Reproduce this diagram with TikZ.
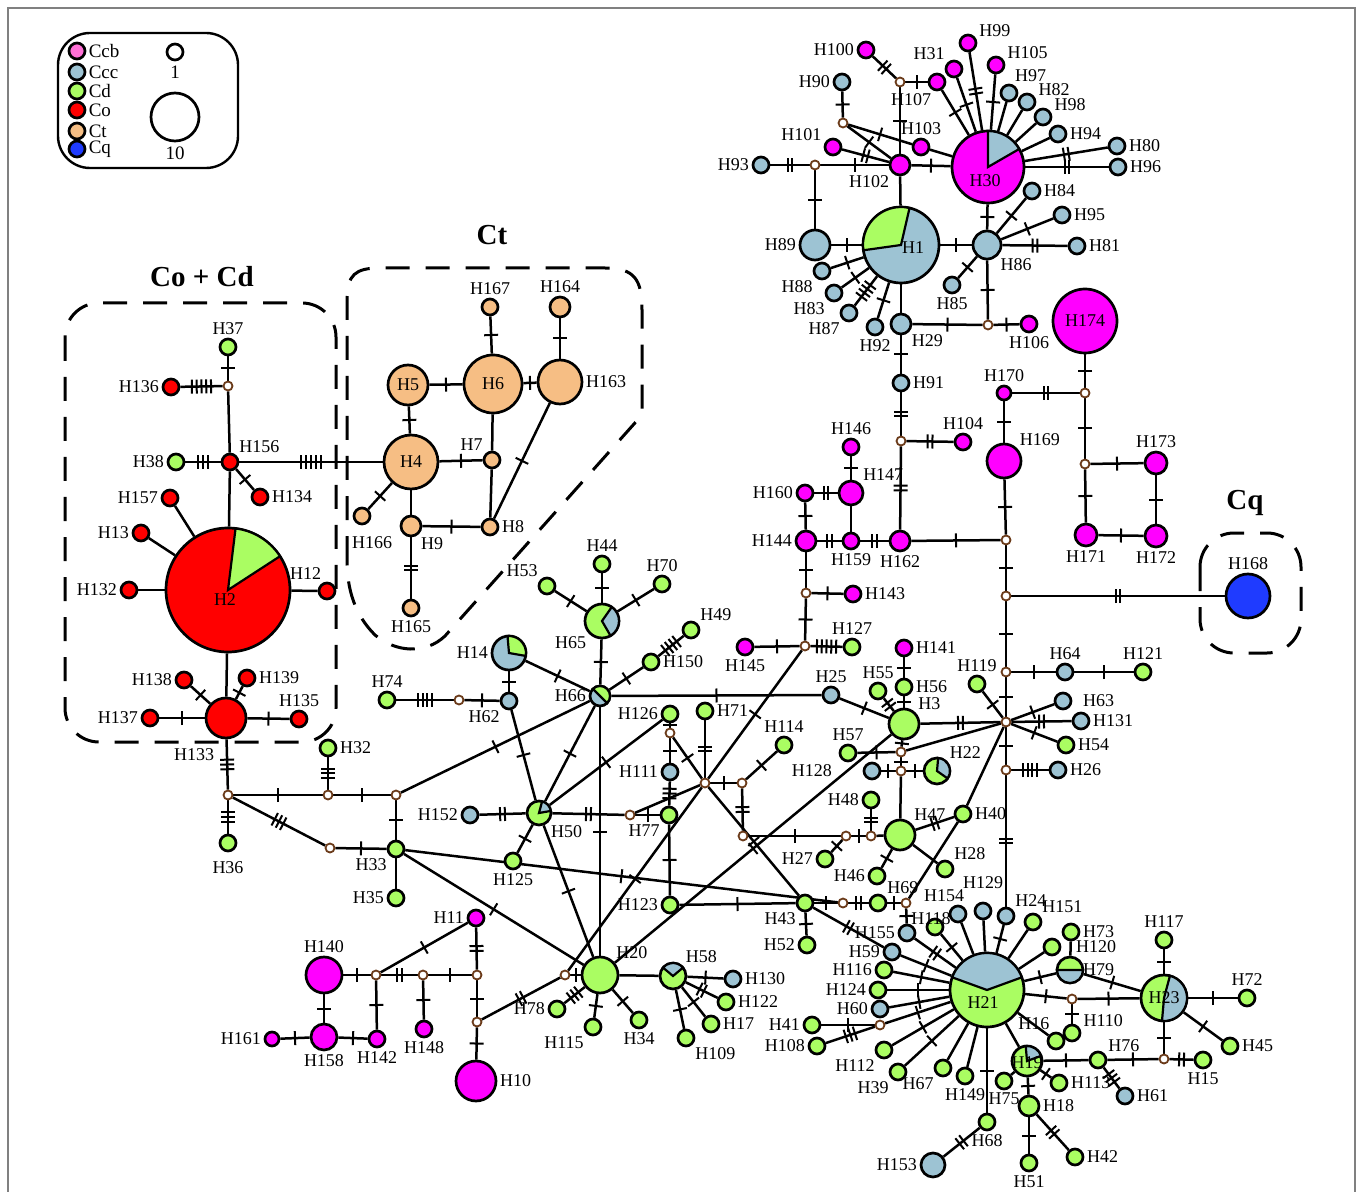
\documentclass[tikz,border=0pt]{standalone}
\usepackage{fontspec}
\setmainfont{Liberation Serif}
\usetikzlibrary{decorations.markings, backgrounds}

\definecolor{ccb}{HTML}{FF00FF}
\definecolor{ccbl}{HTML}{FF70D6}
\definecolor{ccc}{HTML}{9DC3D3}
\definecolor{cd}{HTML}{AAFD62}
\definecolor{co}{HTML}{FF0000}
\definecolor{ct}{HTML}{F6BE84}
\definecolor{cq}{HTML}{1F3BFF}
\definecolor{mvc}{HTML}{6B3B1A}

% pie slice: node, start angle, end angle, radius (pt), colour
\newcommand{\slice}[5]{\filldraw[fill=#5, draw=black, line width=1.1pt] (#1.center) -- ++(#2:#4pt) arc[start angle=#2, end angle=#3, radius=#4pt] -- cycle;}

\begin{document}
\begin{tikzpicture}[x=0.5pt, y=-0.5pt,
    hap/.style={circle, draw, line width=1.35pt, inner sep=0pt, minimum size=#1pt,
                font=\fontsize{9}{9.5}\selectfont},
    mv/.style={circle, draw=mvc, fill=white, line width=0.9pt, inner sep=0pt, minimum size=4.5pt},
    lb/.style={font=\fontsize{9}{9.5}\selectfont, inner sep=1.2pt},
    lg/.style={font=\fontsize{9.5}{10}\selectfont, inner sep=1pt},
    grp/.style={line width=1.5pt, dash pattern=on 12pt off 8pt},
    ttl/.style={font=\fontsize{14.5}{15}\selectfont\bfseries},
    edge/.style={line width=1.25pt},
    mut/.style={postaction={decorate, decoration={markings, mark=at position 0.5 with {
        \foreach \k in {1,...,#1} \draw[line width=1pt] ({(\k-(#1+1)/2)*2.4pt},-3.5pt) -- ++(0pt,7pt);}}}}
]
\useasboundingbox (0,0) rectangle (1360,1192);
\draw[gray, line width=0.8pt] (8,1240) -- (8,8) -- (1355,8) -- (1355,1240);

% legend
\draw[line width=1.2pt, rounded corners=16pt] (58,33) rectangle (238,168);
\foreach \c/\t/\y [count=\i] in {ccbl/Ccb/51, ccc/Ccc/72, cd/Cd/91, co/Co/110, ct/Ct/131, cq/Cq/149}
  \node[hap=8, fill=\c, label={[lg]right:\t}] (lg\i) at (77,\y) {};
\node[hap=8, fill=white] (sz1) at (175,52) {};
\node[lg] (sz1t) at (175,72) {1};
\node[hap=24, fill=white] (sz10) at (175,117) {};
\node[lg] (sz10t) at (175,153) {10};

% group titles
\node[ttl] (tCoCd) at (202,277) {Co + Cd};
\node[ttl] (tCt) at (492,235) {Ct};
\node[ttl] (tCq) at (1245,503) {Cq};

% ---- Co + Cd
\node[hap=8, fill=cd, label={[lb]above:H37}] (H37) at (228,347) {};
\node[mv] (mvA) at (228,386) {};
\node[hap=8, fill=co, label={[lb]left:H136}] (H136) at (171,387) {};
\node[hap=8, fill=co, label={[lb]above right:H156}] (H156) at (230,462) {};
\node[hap=8, fill=cd, label={[lb]left:H38}] (H38) at (176,462) {};
\node[hap=8, fill=co, label={[lb]right:H134}] (H134) at (260,497) {};
\node[hap=62, fill=co] (H2) at (228,590) {};
\node[hap=8, fill=co, label={[lb]left:H157}] (H157) at (170,498) {};
\node[hap=8, fill=co, label={[lb]left:H13}] (H13) at (141,533) {};
\node[hap=8, fill=co, label={[lb]left:H132}] (H132) at (129,590) {};
\node[hap=8, fill=co, label={[lb]110:H12}] (H12) at (327,591) {};
\node[hap=20, fill=co, label={[lb, yshift=-4pt]-115:H133}] (H133) at (226,718) {};
\node[hap=8, fill=co, label={[lb]left:H138}] (H138) at (184,680) {};
\node[hap=8, fill=co, label={[lb]right:H139}] (H139) at (247,678) {};
\node[hap=8, fill=co, label={[lb]left:H137}] (H137) at (150,718) {};
\node[hap=8, fill=co, label={[lb]above:H135}] (H135) at (299,719) {};
\node[mv] (mvB) at (228,795) {};

% ---- Ct
\node[hap=27, fill=ct] (H4) at (411,462) {H4};
\node[hap=20, fill=ct] (H5) at (408,385) {H5};
\node[hap=29, fill=ct] (H6) at (493,384) {H6};
\node[hap=22, fill=ct, label={[lb]right:H163}] (H163) at (560,382) {};
\node[hap=8, fill=ct, label={[lb]above:H167}] (H167) at (490,307) {};
\node[hap=10, fill=ct, label={[lb]above:H164}] (H164) at (560,307) {};
\node[hap=8, fill=ct, label={[lb]above left:H7}] (H7) at (492,460) {};
\node[hap=8, fill=ct, label={[lb]right:H8}] (H8) at (490,527) {};
\node[hap=10, fill=ct, label={[lb]-50:H9}] (H9) at (411,526) {};
\node[hap=8, fill=ct, label={[lb, xshift=5pt, yshift=-4pt]below:H166}] (H166) at (362,516) {};
\node[hap=8, fill=ct, label={[lb]below:H165}] (H165) at (411,608) {};

% ---- centre
\node[hap=17, fill=ccc, label={[lb]left:H14}] (H14) at (509,653) {};
\node[hap=8, fill=ccc, label={[lb]below left:H62}] (H62) at (509,701) {};
\node[mv] (mvC) at (459,700) {};
\node[hap=8, fill=cd, label={[lb]above:H74}] (H74) at (387,700) {};
\node[hap=10, fill=ccc, label={[lb]left:H66}] (H66) at (600,696) {};
\node[hap=17, fill=cd, label={[lb]below left:H65}] (H65) at (602,621) {};
\node[hap=8, fill=cd, label={[lb]above:H44}] (H44) at (602,564) {};
\node[hap=8, fill=cd, label={[lb]above left:H53}] (H53) at (547,586) {};
\node[hap=8, fill=cd, label={[lb]above:H70}] (H70) at (662,584) {};
\node[hap=8, fill=cd, label={[lb]right:H150}] (H150) at (651,662) {};
\node[hap=8, fill=cd, label={[lb]above right:H49}] (H49) at (691,630) {};
\node[hap=8, fill=ccc, label={[lb]above:H25}] (H25) at (831,695) {};
\node[hap=12, fill=cd, label={[lb]below right:H50}] (H50) at (539,813) {};
\node[hap=8, fill=ccc, label={[lb]left:H152}] (H152) at (470,815) {};
\node[hap=8, fill=cd, label={[lb]below:H125}] (H125) at (513,861) {};
\node[mv] (mvD) at (630,815) {};
\node[hap=8, fill=cd, label={[lb]below left:H77}] (H77) at (669,815) {};
\node[hap=8, fill=ccc, label={[lb]left:H111}] (H111) at (670,772) {};
\node[mv] (mvE) at (670,733) {};
\node[hap=8, fill=cd, label={[lb]left:H126}] (H126) at (670,714) {};
\node[hap=8, fill=cd, label={[lb]left:H123}] (H123) at (670,905) {};
\node[hap=8, fill=cd, label={[lb]right:H71}] (H71) at (705,711) {};
\node[mv] (mvF) at (705,783) {};
\node[mv] (mvG) at (742,783) {};
\node[hap=8, fill=cd, label={[lb]above:H114}] (H114) at (784,745) {};
\node[mv] (mvH) at (743,836) {};
\node[mv] (mvI) at (846,836) {};
\node[mv] (mvJ) at (871,836) {};
\node[hap=8, fill=cd, label={[lb]left:H27}] (H27) at (825,859) {};
\node[hap=8, fill=cd, label={[lb]left:H48}] (H48) at (871,800) {};
\node[hap=15, fill=cd, label={[lb]above right:H47}] (H47) at (900,835) {};
\node[hap=8, fill=cd, label={[lb]right:H40}] (H40) at (963,814) {};
\node[hap=8, fill=cd, label={[lb]left:H46}] (H46) at (877,876) {};
\node[hap=8, fill=cd, label={[lb]above right:H28}] (H28) at (945,869) {};
\node[mv] (mvK) at (901,771) {};
\node[hap=8, fill=ccc, label={[lb, xshift=-14pt]left:H128}] (H128) at (872,771) {};
\node[hap=13, fill=cd, label={[lb]above right:H22}] (H22) at (937,771) {};
\node[mv] (mvL) at (901,752) {};
\node[hap=8, fill=cd, label={[lb]above:H57}] (H57) at (848,753) {};
\node[hap=15, fill=cd, label={[lb]above right:H3}] (H3) at (904,724) {};
\node[hap=8, fill=cd, label={[lb]right:H56}] (H56) at (904,687) {};
\node[hap=8, fill=ccb, label={[lb]right:H141}] (H141) at (904,648) {};
\node[hap=8, fill=cd, label={[lb]above:H55}] (H55) at (878,691) {};
\node[mv] (mvM) at (1006,722) {};
\node[mv] (mvN) at (805,646) {};
\node[mv] (mvO) at (565,975) {};
\node[hap=18, fill=cd, label={[lb]above right:H20}] (H20) at (600,975) {};
\node[hap=8, fill=cd, label={[lb]left:H78}] (H78) at (557,1009) {};
\node[hap=8, fill=cd, label={[lb]below left:H115}] (H115) at (593,1027) {};
\node[hap=8, fill=cd, label={[lb]below:H34}] (H34) at (639,1020) {};
\node[hap=13, fill=cd, label={[lb]above right:H58}] (H58) at (673,976) {};
\node[hap=8, fill=ccc, label={[lb]right:H130}] (H130) at (733,979) {};
\node[hap=8, fill=cd, label={[lb]right:H122}] (H122) at (726,1002) {};
\node[hap=8, fill=cd, label={[lb]right:H17}] (H17) at (711,1024) {};
\node[hap=8, fill=cd, label={[lb]below right:H109}] (H109) at (686,1038) {};
\node[hap=8, fill=cd, label={[lb]below left:H33}] (H33) at (396,849) {};
\node[mv] (mvP) at (396,795) {};
\node[hap=8, fill=cd, label={[lb]left:H35}] (H35) at (396,898) {};
\node[mv] (mvQ) at (328,795) {};
\node[hap=8, fill=cd, label={[lb]right:H32}] (H32) at (328,748) {};
\node[hap=8, fill=cd, label={[lb, yshift=-3pt]below:H36}] (H36) at (228,843) {};
\node[mv] (mvR) at (330,848) {};
\node[mv] (mvS) at (843,903) {};
\node[hap=8, fill=cd, label={[lb]below left:H43}] (H43) at (805,903) {};
\node[hap=8, fill=cd, label={[lb]left:H52}] (H52) at (807,945) {};
\node[hap=8, fill=cd, label={[lb]above right:H69}] (H69) at (878,903) {};
\node[mv] (mvT) at (906,903) {};

% ---- H21 group
\node[hap=8, fill=ccc, label={[lb]left:H155}] (H155) at (907,933) {};
\node[hap=8, fill=cd, label={[lb, xshift=-2pt, yshift=-5pt]above:H118}] (H118) at (935,927) {};
\node[hap=8, fill=ccc, label={[lb]left:H59}] (H59) at (892,952) {};
\node[hap=8, fill=cd, label={[lb]left:H116}] (H116) at (884,970) {};
\node[hap=8, fill=cd, label={[lb]left:H124}] (H124) at (878,990) {};
\node[hap=8, fill=ccc, label={[lb]left:H60}] (H60) at (880,1009) {};
\node[mv] (mvU) at (880,1025) {};
\node[hap=8, fill=cd, label={[lb]left:H41}] (H41) at (812,1025) {};
\node[hap=8, fill=cd, label={[lb]left:H108}] (H108) at (817,1046) {};
\node[hap=8, fill=cd, label={[lb]below left:H112}] (H112) at (884,1050) {};
\node[hap=8, fill=cd, label={[lb]below left:H39}] (H39) at (898,1072) {};
\node[hap=8, fill=cd, label={[lb]below left:H67}] (H67) at (943,1068) {};
\node[hap=8, fill=cd, label={[lb]below:H149}] (H149) at (965,1076) {};
\node[hap=37, fill=cd] (H21) at (987,990) {};
\node[hap=8, fill=cd, label={[lb]below:H68}] (H68) at (987,1122) {};
\node[hap=12, fill=ccc, label={[lb]left:H153}] (H153) at (933,1165) {};
\node[hap=8, fill=cd, label={[lb]below:H75}] (H75) at (1004,1081) {};
\node[hap=15, fill=cd] (H19) at (1027,1061) {};
\node[hap=8, fill=ccc, label={[lb, xshift=-7pt]above:H154}] (H154) at (958,914) {};
\node[hap=8, fill=ccc, label={[lb, yshift=5pt]above:H129}] (H129) at (983,911) {};
\node[hap=8, fill=ccc, label={[lb]above right:H24}] (H24) at (1006,916) {};
\node[hap=8, fill=cd, label={[lb]above right:H151}] (H151) at (1033,922) {};
\node[hap=8, fill=cd, label={[lb, xshift=6pt]right:H120}] (H120) at (1052,947) {};
\node[hap=8, fill=cd, label={[lb]right:H73}] (H73) at (1071,932) {};
\node[hap=13, fill=cd, label={[lb, xshift=-2pt]right:H79}] (H79) at (1070,970) {};
\node[mv] (mvV) at (1072,999) {};
\node[hap=8, fill=cd, label={[lb]20:H110}] (H110) at (1072,1033) {};
\node[hap=8, fill=cd, label={[lb]115:H16}] (H16) at (1056,1041) {};
\node[hap=23, fill=cd] (H23) at (1164,998) {};
\node[hap=8, fill=cd, label={[lb]above:H117}] (H117) at (1164,940) {};
\node[hap=8, fill=cd, label={[lb]above:H72}] (H72) at (1247,998) {};
\node[hap=8, fill=cd, label={[lb]right:H45}] (H45) at (1230,1046) {};
\node[mv] (mvW) at (1164,1059) {};
\node[hap=8, fill=cd, label={[lb]below:H15}] (H15) at (1203,1060) {};
\node[hap=8, fill=cd, label={[lb]35:H76}] (H76) at (1098,1060) {};
\node[hap=8, fill=ccc, label={[lb]right:H61}] (H61) at (1125,1096) {};
\node[hap=8, fill=cd, label={[lb]right:H113}] (H113) at (1059,1083) {};
\node[hap=10, fill=cd, label={[lb]right:H18}] (H18) at (1029,1106) {};
\node[hap=8, fill=cd, label={[lb]below:H51}] (H51) at (1029,1163) {};
\node[hap=8, fill=cd, label={[lb]right:H42}] (H42) at (1075,1157) {};

% ---- upper right
\node[hap=36, fill=ccb] (H30) at (988,167) {};
\node[hap=38, fill=ccc] (H1) at (901,245) {};
\node[hap=10, fill=ccb, label={[lb]below left:H102}] (H102) at (900,165) {};
\node[mv] (mvX) at (815,165) {};
\node[hap=8, fill=ccc, label={[lb]left:H93}] (H93) at (761,165) {};
\node[hap=15, fill=ccc, label={[lb]left:H89}] (H89) at (815,245) {};
\node[mv] (mvY) at (900,82) {};
\node[hap=8, fill=ccb, label={[lb]left:H100}] (H100) at (866,50) {};
\node[hap=8, fill=ccb, label={[lb]-110:H107}] (H107) at (937,82) {};
\node[mv] (mvZ) at (843,123) {};
\node[hap=8, fill=ccc, label={[lb]left:H90}] (H90) at (842,82) {};
\node[hap=8, fill=ccb, label={[lb]above:H103}] (H103) at (921,147) {};
\node[hap=8, fill=ccb, label={[lb]160:H101}] (H101) at (833,147) {};
\node[hap=8, fill=ccb, label={[lb]above left:H31}] (H31) at (954,69) {};
\node[hap=8, fill=ccb, label={[lb]25:H99}] (H99) at (968,43) {};
\node[hap=8, fill=ccb, label={[lb]20:H105}] (H105) at (996,65) {};
\node[hap=8, fill=ccc, label={[lb]70:H97}] (H97) at (1009,93) {};
\node[hap=8, fill=ccc, label={[lb]20:H82}] (H82) at (1027,102) {};
\node[hap=8, fill=ccc, label={[lb]20:H98}] (H98) at (1043,117) {};
\node[hap=8, fill=ccc, label={[lb]right:H94}] (H94) at (1058,134) {};
\node[hap=8, fill=ccc, label={[lb]right:H80}] (H80) at (1117,146) {};
\node[hap=8, fill=ccc, label={[lb]right:H96}] (H96) at (1118,167) {};
\node[hap=14, fill=ccc, label={[lb]below right:H86}] (H86) at (987,245) {};
\node[hap=8, fill=ccc, label={[lb]right:H84}] (H84) at (1032,191) {};
\node[hap=8, fill=ccc, label={[lb]right:H95}] (H95) at (1062,215) {};
\node[hap=8, fill=ccc, label={[lb]right:H81}] (H81) at (1077,246) {};
\node[hap=8, fill=ccc, label={[lb]below:H85}] (H85) at (952,285) {};
\node[mv] (mvAA) at (988,325) {};
\node[hap=10, fill=ccc, label={[lb]below right:H29}] (H29) at (901,324) {};
\node[hap=8, fill=ccb, label={[lb]below:H106}] (H106) at (1029,324) {};
\node[hap=8, fill=ccc, label={[lb]below left:H88}] (H88) at (822,271) {};
\node[hap=8, fill=ccc, label={[lb]below left:H83}] (H83) at (834,293) {};
\node[hap=8, fill=ccc, label={[lb]below left:H87}] (H87) at (849,313) {};
\node[hap=8, fill=ccc, label={[lb]below:H92}] (H92) at (875,327) {};
\node[hap=8, fill=ccc, label={[lb]right:H91}] (H91) at (901,383) {};
\node[mv] (mvAB) at (901,441) {};
\node[hap=8, fill=ccb, label={[lb]above:H104}] (H104) at (963,442) {};
\node[hap=10, fill=ccb, label={[lb]below:H162}] (H162) at (900,541) {};
\node[hap=8, fill=ccb, label={[lb]below:H159}] (H159) at (851,541) {};
\node[hap=10, fill=ccb, label={[lb]left:H144}] (H144) at (806,541) {};
\node[hap=12, fill=ccb, label={[lb]above right:H147}] (H147) at (851,493) {};
\node[hap=8, fill=ccb, label={[lb]above:H146}] (H146) at (851,447) {};
\node[hap=8, fill=ccb, label={[lb]left:H160}] (H160) at (805,493) {};
\node[mv] (mvAC) at (806,593) {};
\node[hap=8, fill=ccb, label={[lb]right:H143}] (H143) at (853,594) {};
\node[hap=8, fill=ccb, label={[lb]below:H145}] (H145) at (745,647) {};
\node[hap=8, fill=cd, label={[lb]above:H127}] (H127) at (852,647) {};
\node[mv] (mvAD) at (1006,540) {};
\node[hap=17, fill=ccb, label={[lb]above right:H169}] (H169) at (1004,461) {};
\node[hap=7, fill=ccb, label={[lb]above:H170}] (H170) at (1004,393) {};
\node[mv] (mvAE) at (1085,393) {};
\node[hap=32, fill=ccb] (H174) at (1085,321) {H174};
\node[mv] (mvAF) at (1085,464) {};
\node[hap=11, fill=ccb, label={[lb]above:H173}] (H173) at (1156,463) {};
\node[hap=11, fill=ccb, label={[lb]below:H171}] (H171) at (1086,535) {};
\node[hap=11, fill=ccb, label={[lb]below:H172}] (H172) at (1156,536) {};
\node[mv] (mvAG) at (1006,596) {};
\node[hap=22, fill=cq, label={[lb]above:H168}] (H168) at (1248,596) {};
\node[mv] (mvAH) at (1006,672) {};
\node[hap=8, fill=ccc, label={[lb]above:H64}] (H64) at (1065,672) {};
\node[hap=8, fill=cd, label={[lb]above:H121}] (H121) at (1143,672) {};
\node[hap=8, fill=cd, label={[lb]above:H119}] (H119) at (977,684) {};
\node[hap=8, fill=ccc, label={[lb, xshift=4pt]right:H63}] (H63) at (1063,701) {};
\node[hap=8, fill=ccc, label={[lb]right:H131}] (H131) at (1081,721) {};
\node[hap=8, fill=cd, label={[lb]right:H54}] (H54) at (1066,745) {};
\node[mv] (mvAI) at (1006,770) {};
\node[hap=8, fill=ccc, label={[lb]right:H26}] (H26) at (1058,770) {};

% ---- H10 group
\node[hap=18, fill=ccb, label={[lb]above:H140}] (H140) at (324,975) {};
\node[hap=13, fill=ccb, label={[lb]below:H158}] (H158) at (324,1037) {};
\node[hap=7, fill=ccb, label={[lb]left:H161}] (H161) at (272,1039) {};
\node[hap=8, fill=ccb, label={[lb]below:H142}] (H142) at (377,1039) {};
\node[mv] (mvAJ) at (376,975) {};
\node[mv] (mvAK) at (423,975) {};
\node[hap=8, fill=ccb, label={[lb]below:H148}] (H148) at (424,1029) {};
\node[mv] (mvAL) at (477,975) {};
\node[hap=8, fill=ccb, label={[lb]left:H11}] (H11) at (476,918) {};
\node[mv] (mvAM) at (477,1022) {};
\node[hap=20, fill=ccb, label={[lb]right:H10}] (H10) at (476,1081) {};

% pies
\slice{H2}{33}{83}{31}{cd}
\slice{H1}{77}{188}{19}{cd}
\slice{H30}{30}{90}{18}{ccc}
\slice{H21}{20}{160}{18.5}{ccc}
\slice{H23}{-95}{75}{11.5}{ccc}
\slice{H19}{20}{95}{7.5}{ccc}
\slice{H79}{180}{360}{6.5}{ccc}
\slice{H66}{-45}{135}{5}{cd}
\slice{H65}{-60}{55}{8.5}{ccc}
\slice{H14}{-10}{95}{8.5}{cd}
\slice{H50}{10}{75}{6}{ccc}
\slice{H58}{40}{140}{6.5}{ccc}
\slice{H22}{-35}{85}{6.5}{ccc}
\node[lb] (H2t) at (225,600) {H2};
\node[lb] (H1t) at (913,248) {H1};
\node[lb] (H30t) at (985,181) {H30};
\node[lb] (H21t) at (983,1003) {H21};
\node[lb] (H23t) at (1164,998) {H23};
\node[lb] (H19t) at (1027,1063) {H19};

\begin{scope}[on background layer]
% groups
\draw[grp, rounded corners=17pt] (65,303) rectangle (336,742);
\draw[grp, rounded corners=17pt] (1200,533) rectangle (1301,653);
\draw[grp] (347,560) -- (347,300) .. controls (347,275) and (355,268) .. (380,268) -- (605,268)
  .. controls (635,268) and (642,280) .. (642,310) -- (642,415) -- (445,636)
  .. controls (425,655) and (395,652) .. (375,635) .. controls (355,615) and (347,590) .. (347,560);
% links
\foreach \a/\b in {mvA/H156, H156/H2, H157/H2, H13/H2, H132/H2, H2/H12, H2/H133,
    H6/H7, H7/H8, H4/H9, H102/H1, H103/H30, H97/H30, H82/H30, H98/H30, H94/H30, H1/H29,
    H159/H147, mvM/mvL, mvM/H40, mvK/H47, H47/H28, mvJ/H47, mvT/H40, H33/H35, H20/H58,
    H67/H21, H149/H21, H154/H21, H129/H21, H151/H21, H120/H21, H73/H79, H21/H16, H21/H19,
    H19/H75, mvD/mvF}
  \draw[edge] (\a) -- (\b);
\foreach \a/\b in {H37/mvA, H156/H134, H133/H138, H133/H139, H137/H133, H133/H135,
    H5/H6, H6/H163, H167/H6, H164/H163, H5/H4, H4/H7, H8/H163, H9/H8, H4/H166,
    mvX/H102, mvX/H89, H89/H1, H102/H30, mvY/H107, mvY/H102, H107/H30, H90/mvZ, mvZ/H102,
    mvZ/H103, H31/H30, H105/H30, H30/H86, H86/H84, H86/H95, H86/H85, H1/H86, H86/mvAA,
    mvAA/H29, mvAA/H106, H88/H1, H83/H1, H92/H1, H29/H91, H147/H146, H160/H144, H144/mvAC,
    mvAC/H143, mvAC/mvN, mvN/H145, H162/mvAD, mvAD/H169, H169/H170, mvAE/H174, mvAE/mvAF,
    mvAF/H173, mvAF/H171, H171/H172, H173/H172, mvAD/mvAG, mvAG/mvAH, mvAH/H64, H64/H121,
    mvAH/mvM, mvM/H119, mvM/H63, mvM/H54, mvM/mvAI, H25/H3, H66/H25, H56/H3, H141/H56,
    H3/mvL, mvL/H57, mvL/mvK, mvK/H128, mvK/H22, H47/H46, mvI/mvJ, mvI/H27, mvH/mvI,
    mvF/mvG, mvG/H114, mvN/mvF, mvF/mvO, mvF/H43, mvE/mvF, H3/H20, H126/mvE, mvE/H111,
    H77/H123, mvD/H77, H50/H125, H62/H50, H66/H50, H126/H50, H50/H20, H66/H20, H66/mvP,
    H14/H66, H14/H62, H62/mvC, H65/H66, H44/H65, H53/H65, H70/H65, H66/H150, H123/H43,
    H43/mvS, H69/mvT, mvT/H155, H43/H52, H33/mvS, mvB/mvQ, mvQ/mvP, mvR/H33, mvP/H33,
    H33/H20, H20/mvO, H20/H115, H20/H34, H58/H130, H58/H17, H58/H109, H140/H158,
    H161/H158, H158/H142, H140/mvAJ, mvAJ/H142, mvAK/H148, mvAK/mvAL, mvAJ/H11,
    mvAL/mvAM, mvAM/H10, H59/H21, H116/H21, H124/H21, H60/H21, H41/mvU, mvU/H21,
    H112/H21, H39/H21, H21/H68, H24/H21, H118/H21, H21/H79, H79/H23, H21/mvV, mvV/H23,
    mvV/H110, H23/H117, H23/H72, H23/H45, H23/mvW, mvW/H76, H76/H19, H19/H113, H19/H18,
    H18/H51}
  \draw[edge, mut=1] (\a) -- (\b);
\foreach \a/\b in {H9/H165, H93/mvX, H100/mvY, H101/H102, H99/H30, H80/H30, H96/H30,
    H86/H81, H91/mvAB, mvAB/H104, mvAB/H162, H162/H159, H159/H144, H147/H160, H170/mvAE,
    mvAG/H168, mvM/H131, mvM/H3, mvAI/H24, H55/H3, H47/H40, H48/mvJ, mvG/mvH, H71/mvF,
    H43/H59, H50/mvD, H152/H50, mvS/H69, H155/H21, mvO/mvAM, H58/H122, mvAJ/mvAK,
    H11/mvAL, H68/H153, mvW/H15, H18/H42}
  \draw[edge, mut=2] (\a) -- (\b);
\foreach \a/\b in {H38/H156, H133/mvB, H111/H77, mvQ/H32, mvB/H36, mvB/mvR, H20/H78,
    H108/mvU, H76/H61}
  \draw[edge, mut=3] (\a) -- (\b);
\foreach \a/\b in {H87/H1, mvC/H74, H150/H49, mvAI/H26}
  \draw[edge, mut=4] (\a) -- (\b);
\foreach \a/\b in {H136/mvA, H156/H4, mvN/H127}
  \draw[edge, mut=5] (\a) -- (\b);
\end{scope}
\end{tikzpicture}
\end{document}
